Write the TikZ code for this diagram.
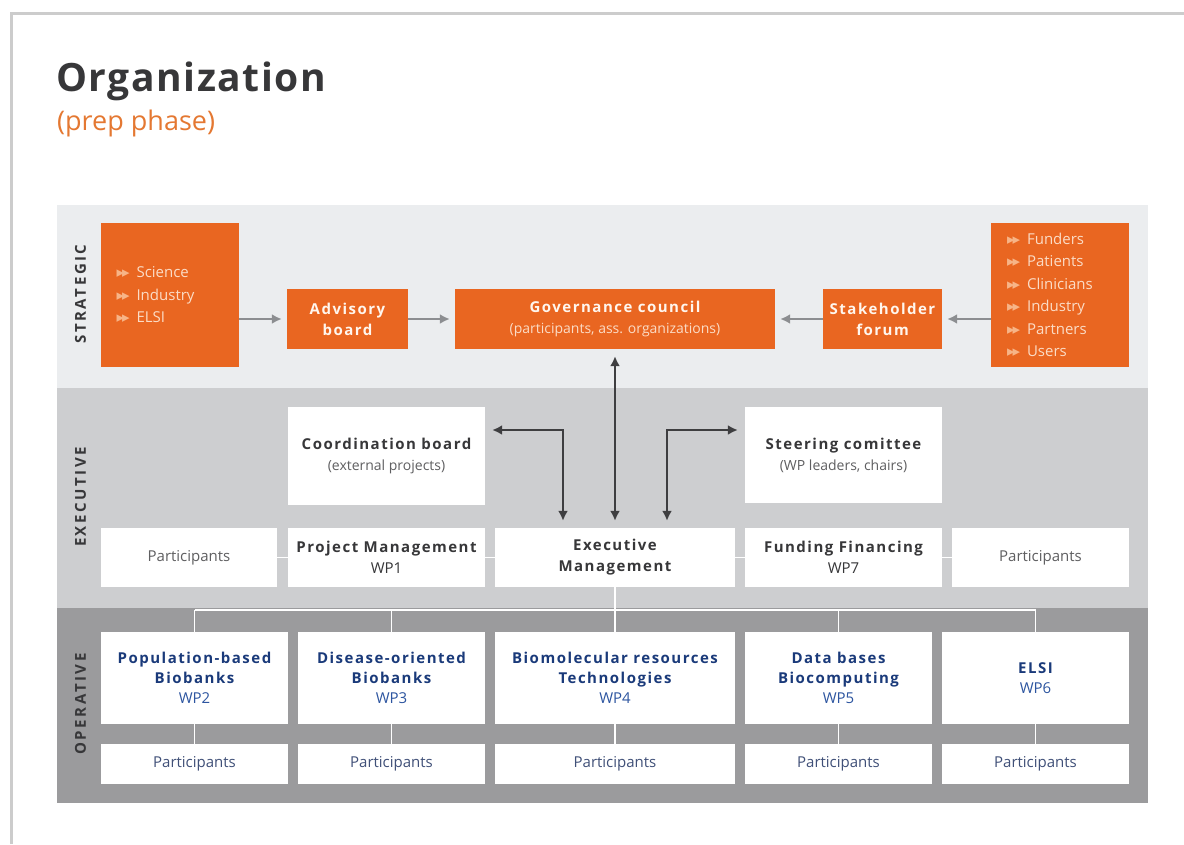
\documentclass[tikz,border=0pt]{standalone}
\usepackage{fontspec}
\setmainfont{Open Sans}
\newfontfamily\hdfont[LetterSpace=10]{Open Sans}
\newfontfamily\lblfont[LetterSpace=17]{Open Sans}
\newfontfamily\ttlfont[LetterSpace=4]{Open Sans}
\newfontfamily\symfont{DejaVu Sans}
\usetikzlibrary{arrows.meta}
\definecolor{orgorange}{RGB}{233,102,33}
\definecolor{boxwhite}{RGB}{255,246,238}
\definecolor{peach}{RGB}{251,220,198}
\definecolor{bulcol}{RGB}{247,180,135}
\definecolor{suborange}{RGB}{228,120,50}
\definecolor{stratgray}{RGB}{235,237,239}
\definecolor{execgray}{RGB}{205,206,208}
\definecolor{opgray}{RGB}{155,155,157}
\definecolor{framegray}{RGB}{204,204,204}
\definecolor{arrgray}{RGB}{140,142,145}
\definecolor{darkarr}{RGB}{62,62,64}
\definecolor{txtdark}{RGB}{55,55,57}
\definecolor{txtgray}{RGB}{95,95,97}
\definecolor{navy}{RGB}{26,58,122}
\definecolor{wpblue}{RGB}{45,85,160}
\definecolor{oppart}{RGB}{64,80,120}
\pgfdeclarelayer{bg}
\pgfdeclarelayer{links}
\pgfsetlayers{bg,links,main}
\newcommand{\hd}{\hdfont\bfseries}
\newcommand{\bt}[1]{{\hd #1}}
\newcommand{\wt}[1]{{\hd\color{navy}#1}}
\newcommand{\bul}{{\symfont\color{bulcol}\fontsize{15}{15}\selectfont ▸\kern-2pt▸}\hspace{7pt}}
\tikzset{%
  >={Latex[width=10pt,length=10pt]},
  % Specifications for style of nodes:
          obox/.style = {rectangle, fill=orgorange, text=boxwhite, inner sep=0pt,
                         minimum height=60pt, align=center,
                         font=\hd\fontsize{15}{21}\selectfont},
       listbox/.style = {obox, minimum height=144pt, text width=106pt, inner xsep=16pt,
                         text=peach, align=left, font=\fontsize{15}{22.5}\selectfont},
          wbox/.style = {rectangle, fill=white, inner sep=0pt, align=center,
                         text=txtdark, font=\fontsize{15}{21}\selectfont},
         wpbox/.style = {wbox, minimum height=92pt, text=wpblue,
                         font=\fontsize{15}{20}\selectfont},
         opbox/.style = {wbox, minimum height=40pt, text=oppart},
     bandlabel/.style = {rotate=90, text=txtdark, inner sep=0pt,
                         font=\lblfont\bfseries\fontsize{15}{15}\selectfont},
  % Specifications for connectors:
          garr/.style = {draw=arrgray, line width=2.5pt, ->, shorten >=5pt},
          darr/.style = {draw=darkarr, line width=2.5pt, <->, shorten >=7pt, shorten <=7pt},
          link/.style = {draw=white, line width=1.5pt}
}
\begin{document}
\begin{tikzpicture}[x=1pt, y=-1pt, node distance=86pt]
  \useasboundingbox (0,0) rectangle (1184,844);

  % Frame and bands
  \begin{pgfonlayer}{bg}
    \draw[framegray, line width=3pt] (11.5,844) -- (11.5,13.5) -- (1184,13.5);
    \fill[stratgray] (57,205) rectangle (1148,388);
    \fill[execgray] (57,388) rectangle (1148,609);
    \fill[opgray] (57,608) rectangle (1148,803);
  \end{pgfonlayer}

  % Title
  \node (title) [anchor=base west, inner sep=0pt, text=txtdark,
                 font=\ttlfont\bfseries\fontsize{39}{39}\selectfont] at (56,91) {Organization};
  \node (subtitle) [anchor=base west, inner sep=0pt, text=suborange,
                 font=\fontsize{27}{27}\selectfont] at (57,130) {(prep phase)};

  % Band labels
  \node (lstrat) [bandlabel] at (80.5,294) {STRATEGIC};
  \node (lexec)  [bandlabel] at (80.5,497) {EXECUTIVE};
  \node (lop)    [bandlabel] at (80.5,704) {OPERATIVE};

  % Strategic level
  \node (lefts)  [listbox] at (169.5,295) {\bul Science\\\bul Industry\\\bul ELSI};
  \node (adv)    [obox, minimum width=121pt] at (347.5,319) {Advisory\\board};
  \node (gov)    [obox, minimum width=320pt] at (615,319)
                 {Governance council\\{\normalfont\color{peach}\fontsize{14}{21}\selectfont (participants, ass. organizations)}};
  \node (stk)    [obox, minimum width=119pt] at (882.5,319) {Stakeholder\\forum};
  \node (rights) [listbox] at (1060,295)
                 {\bul Funders\\\bul Patients\\\bul Clinicians\\\bul Industry\\\bul Partners\\\bul Users};

  % Executive level
  \node (pa)    [wbox, minimum width=176pt, minimum height=59pt, text=txtgray] at (189,557.5) {Participants};
  \node (pm)    [wbox, minimum width=197pt, minimum height=59pt] at (386.5,557.5) {\bt{Project Management}\\WP1};
  \node (em)    [wbox, minimum width=240pt, minimum height=59pt] at (615,557.5) {\bt{Executive}\\\bt{Management}};
  \node (ff)    [wbox, minimum width=197pt, minimum height=59pt] at (843.5,557.5) {\bt{Funding Financing}\\WP7};
  \node (pb)    [wbox, minimum width=177pt, minimum height=59pt, text=txtgray] at (1040.5,557.5) {Participants};
  \node (coord) [wbox, minimum width=197pt, minimum height=98pt, above of=pm, yshift=15.5pt]
                {\bt{Coordination board}\\{\color{txtgray}\fontsize{14}{21}\selectfont (external projects)}};
  \node (steer) [wbox, minimum width=197pt, minimum height=96pt, above of=ff, yshift=16.5pt]
                {\bt{Steering comittee}\\{\color{txtgray}\fontsize{14}{21}\selectfont (WP leaders, chairs)}};

  % Operative level
  \node (wp2) [wpbox, minimum width=187pt] at (194.5,678) {\wt{Population-based}\\\wt{Biobanks}\\WP2};
  \node (wp3) [wpbox, minimum width=187pt] at (391.5,678) {\wt{Disease-oriented}\\\wt{Biobanks}\\WP3};
  \node (wp4) [wpbox, minimum width=240pt] at (615,678) {\wt{Biomolecular resources}\\\wt{Technologies}\\WP4};
  \node (wp5) [wpbox, minimum width=187pt] at (838.5,678) {\wt{Data bases}\\\wt{Biocomputing}\\WP5};
  \node (wp6) [wpbox, minimum width=187pt] at (1035.5,678) {\wt{ELSI}\\WP6};
  \foreach \w/\bw in {2/187,3/187,4/240,5/187,6/187}
    \node (op\w) [opbox, below of=wp\w, minimum width=\bw pt] {Participants};

  % Connectors
  \draw[garr] (lefts.east |- adv) -- (adv);
  \draw[garr] (adv) -- (gov);
  \draw[garr] (stk) -- (gov);
  \draw[garr] (rights.west |- stk) -- (stk);

  \draw[darr] (em) -- (gov);
  \draw[darr] ([yshift=26pt]coord.east) -| ([xshift=-52pt]em.north);
  \draw[darr] ([xshift=52pt]em.north) |- ([yshift=25pt]steer.west);

  % White links behind the boxes
  \begin{pgfonlayer}{links}
    \coordinate (bus) at (615,610);
    \draw[link] (pa) -- (pb);
    \draw[link] (em) -- (bus);
    \draw[link] (bus -| wp2) -- (bus -| wp6);
    \foreach \w in {2,...,6}
      \draw[link] (bus -| wp\w) -- (op\w);
  \end{pgfonlayer}
\end{tikzpicture}
\end{document}
